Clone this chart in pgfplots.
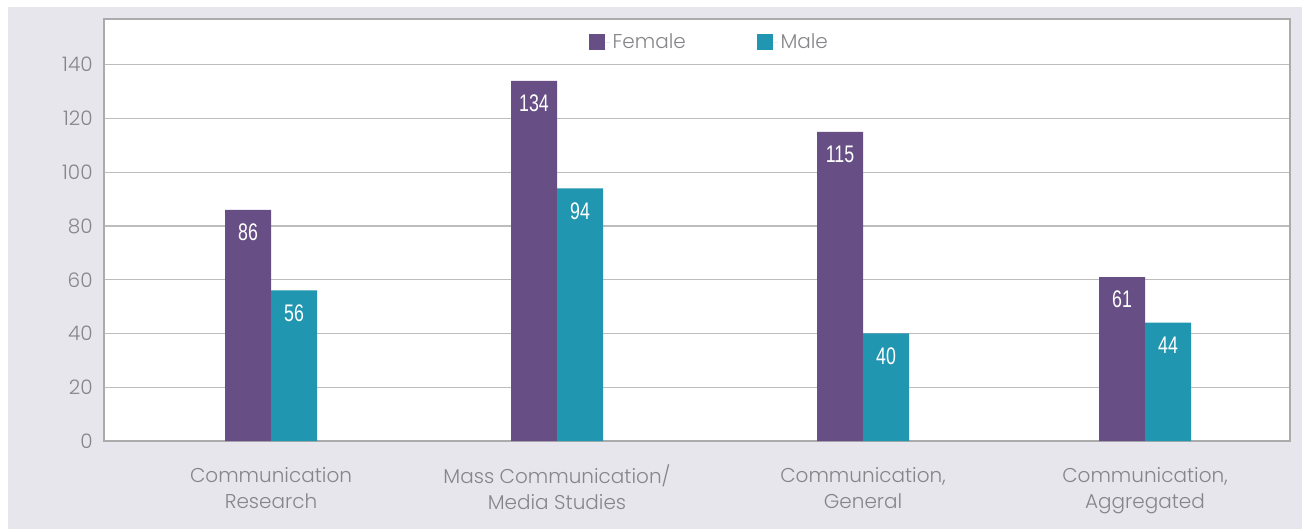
\documentclass[border=0pt]{standalone}
\usepackage{fontspec}
\setmainfont{Poppins Light}
\newfontfamily\barfont{Liberation Sans}
\usepackage{graphicx}
\usepackage{pgfplots}
\pgfplotsset{compat=1.18}
\definecolor{bg}{HTML}{E8E6ED}
\definecolor{fem}{HTML}{674F85}
\definecolor{mal}{HTML}{2196B0}
\definecolor{txt}{HTML}{86868A}
\definecolor{gridc}{HTML}{BDBDBD}
\definecolor{framec}{HTML}{ABABAB}
\begin{document}
\begin{tikzpicture}
\fill[white] (-78pt,-66pt) rectangle (898.5pt,330.75pt);
\fill[bg] (-72pt,-66pt) rectangle (898.5pt,325.5pt);
\begin{axis}[
  scale only axis, width=889.5pt, height=316.5pt,
  xmin=0, xmax=4.147, ymin=0, ymax=157,
  axis background/.style={fill=white},
  ybar, bar width=34.5pt,
  ytick={0,20,...,140},
  ymajorgrids, grid style={gridc, line width=0.9pt},
  axis line style={framec, line width=1pt},
  major tick length=0pt,
  /pgf/number format/assume math mode=true,
  yticklabel style={text=txt, font=\fontsize{15pt}{18pt}\selectfont, xshift=-5pt},
  xtick={0.584,1.584,2.654,3.640},
  xticklabels={{\strut Communication\\Research},{\strut Mass Communication/\\Media Studies},{\strut Communication,\\General},{\strut Communication,\\Aggregated}},
  xticklabel style={align=center, text=txt, font=\fontsize{15pt}{19.5pt}\selectfont, yshift=-14pt},
  legend style={at={(0.405,0.945)}, anchor=west, draw=none, fill=none,
    legend columns=2, font=\fontsize{15pt}{18pt}\selectfont, text=txt,
    /tikz/every even column/.append style={column sep=51pt}},
  nodes near coords={\scalebox{0.74}[1]{\pgfmathprintnumber{\pgfplotspointmeta}}},
  nodes near coords style={text=white, anchor=center, yshift=-17pt, font=\barfont\fontsize{18pt}{18pt}\selectfont},
]
\addplot[fill=fem, draw=none, bar shift=-17.25pt,
  legend image code/.code={\fill[fem] (0pt,-6pt) rectangle (12pt,6pt); \path (0pt,0pt) -- (16pt,0pt);}]
  coordinates {(0.584,86) (1.584,134) (2.654,115) (3.640,61)};
\addlegendentry{Female}
\addplot[fill=mal, draw=none, bar shift=17.25pt,
  legend image code/.code={\fill[mal] (0pt,-6pt) rectangle (12pt,6pt); \path (0pt,0pt) -- (16pt,0pt);}]
  coordinates {(0.584,56) (1.584,94) (2.654,40) (3.640,44)};
\addlegendentry{Male}
\end{axis}
\end{tikzpicture}
\end{document}
